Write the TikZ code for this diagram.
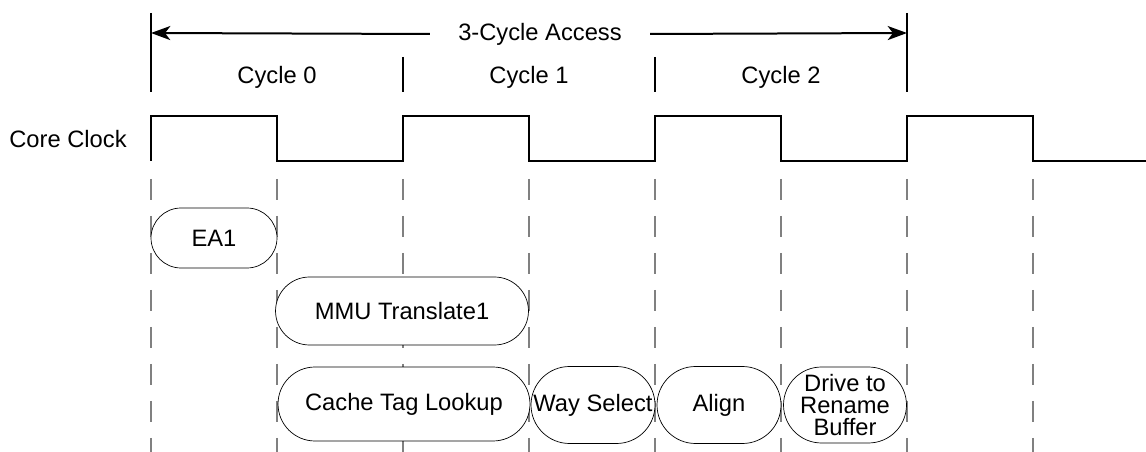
\documentclass[tikz,border=0pt]{standalone}
\usepackage{fontspec}
\setmainfont{Liberation Sans}
\usetikzlibrary{arrows.meta}
\definecolor{GuideGray}{HTML}{808080}

\begin{document}
\begin{tikzpicture}[x=0.02cm, y=-0.02cm,
    every node/.style={font=\fontsize{13.5}{12.6}\selectfont},
    stage/.style n args={2}{draw, thin, fill=white, rectangle, inner sep=0pt,
      align=center, minimum width=#1, minimum height=#2, rounded corners={0.5*#2}}]
  \useasboundingbox (0,0) rectangle (1146,452);
  % Dashed guides, one per half cycle
  \foreach \x in {151,277,...,1033}
    \draw[GuideGray, line width=0.04cm, dash pattern=on 0.42cm off 0.32cm] (\x,179) -- (\x,452);
  % Core clock waveform
  \node (core) at (68,139) {Core Clock};
  \draw[line width=0.04cm] (151,161) -- (151,116) -- (277,116) -- (277,161) -- (403,161)
    -- (403,116) -- (529,116) -- (529,161) -- (655,161) -- (655,116) -- (781,116)
    -- (781,161) -- (907,161) -- (907,116) -- (1033,116) -- (1033,161) -- (1146,161);
  % Cycle boundaries
  \coordinate (aL) at (151,33);
  \coordinate (aR) at (907,33);
  \draw[line width=0.04cm] (151,13) -- (151,92);
  \draw[line width=0.04cm] (907,13) -- (907,92);
  \draw[line width=0.04cm] (403,57) -- (403,92);
  \draw[line width=0.04cm] (655,57) -- (655,92);
  \foreach \n/\x in {0/277, 1/529, 2/781}
    \node (cyc\n) at (\x,77) {Cycle \n};
  \node[inner xsep=0.56cm] (access) at (540,34) {3-Cycle Access};
  \draw[line width=0.04cm, -{Stealth[length=11pt,width=8pt,inset=3pt]}] (access.west) -- (aL);
  \draw[line width=0.04cm, -{Stealth[length=11pt,width=8pt,inset=3pt]}] (access.east) -- (aR);
  % Pipeline stages
  \node[stage={2.52cm}{1.2cm}] (ea) at (214,238) {EA1};
  \node[stage={5.06cm}{1.36cm}] (mmu) at (402,311) {MMU Translate1};
  \node[stage={5.04cm}{1.48cm}] (tag) at (404,404) {Cache Tag Lookup};
  \node[stage={2.48cm}{1.54cm}] (way) at (593,405) {Way Select};
  \node[stage={2.48cm}{1.54cm}] (align) at (719,405) {Align};
  \node[stage={2.46cm}{1.52cm}] (drive) at (845,405) {Drive to\\Rename\\Buffer};
\end{tikzpicture}
\end{document}
